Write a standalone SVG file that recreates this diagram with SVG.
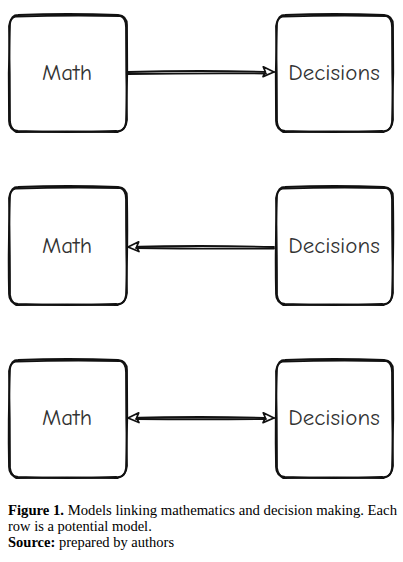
<svg xmlns="http://www.w3.org/2000/svg" width="403" height="562" viewBox="0 0 403 562">
<defs>
<style>
.s{fill:none;stroke:#111;stroke-width:1.8;stroke-linecap:round;stroke-linejoin:round}
.t{font-family:"Comic Neue","DejaVu Sans","Liberation Sans",sans-serif;font-size:23px;fill:#333;text-anchor:middle}
.c{font-family:"Liberation Serif","DejaVu Serif","Times New Roman",serif;font-size:14.5px;fill:#000}
</style>
<marker id="ah" viewBox="0 0 12 12" refX="11" refY="6" markerWidth="13" markerHeight="13" markerUnits="userSpaceOnUse" orient="auto-start-reverse">
<path d="M1,1.5 L11,6 L1,10.5 L3,6 Z" fill="#fff" stroke="#111" stroke-width="1.6" stroke-linejoin="round"/>
</marker>
</defs>
<rect width="403" height="562" fill="#fff"/>
<g id="math1">
<path class="s" d="M18,15 Q68,13 118,15 Q127,16 127,25 Q128,73 126,122 Q125,132 116,131 Q67,133 18,131 Q9,130 9,121 Q8,73 10,24 Q11,15 18,15 Z"/>
<path class="s" d="M16,16.5 Q68,15 120,16 Q126,18 126,27 Q126,73 127,120 Q126,130 118,132 Q67,131 16,132 Q11,129 10,122 Q10,73 9,26 Q10,18 16,16.5"/>
<text class="t" x="67" y="80">Math</text>
</g>
<g id="dec1">
<path class="s" d="M285,15 Q334,13 384,15 Q393,16 393,25 Q394,73 392,122 Q391,132 382,131 Q334,133 285,131 Q276,130 276,121 Q275,73 277,24 Q278,15 285,15 Z"/>
<path class="s" d="M283,16.5 Q334,15 386,16 Q392,18 392,27 Q392,73 393,120 Q392,130 384,132 Q334,131 283,132 Q278,129 277,122 Q277,73 276,26 Q277,18 283,16.5"/>
<text class="t" x="334" y="80">Decisions</text>
</g>
<g id="math2">
<path class="s" d="M18,187 Q68,185 118,187 Q127,188 127,197 Q128,246 126,295 Q125,305 116,304 Q67,306 18,304 Q9,303 9,294 Q8,246 10,196 Q11,187 18,187 Z"/>
<path class="s" d="M16,188.5 Q68,187 120,188 Q126,190 126,199 Q126,246 127,293 Q126,303 118,305 Q67,304 16,305 Q11,302 10,295 Q10,246 9,198 Q10,190 16,188.5"/>
<text class="t" x="67" y="253">Math</text>
</g>
<g id="dec2">
<path class="s" d="M285,187 Q334,185 384,187 Q393,188 393,197 Q394,246 392,295 Q391,305 382,304 Q334,306 285,304 Q276,303 276,294 Q275,246 277,196 Q278,187 285,187 Z"/>
<path class="s" d="M283,188.5 Q334,187 386,188 Q392,190 392,199 Q392,246 393,293 Q392,303 384,305 Q334,304 283,305 Q278,302 277,295 Q277,246 276,198 Q277,190 283,188.5"/>
<text class="t" x="334" y="253">Decisions</text>
</g>
<g id="math3">
<path class="s" d="M18,360 Q68,358 118,360 Q127,361 127,370 Q128,419 126,468 Q125,478 116,477 Q67,479 18,477 Q9,476 9,467 Q8,419 10,369 Q11,360 18,360 Z"/>
<path class="s" d="M16,361.5 Q68,360 120,361 Q126,363 126,372 Q126,419 127,466 Q126,476 118,478 Q67,477 16,478 Q11,475 10,468 Q10,419 9,371 Q10,363 16,361.5"/>
<text class="t" x="67" y="425">Math</text>
</g>
<g id="dec3">
<path class="s" d="M285,360 Q334,358 384,360 Q393,361 393,370 Q394,419 392,468 Q391,478 382,477 Q334,479 285,477 Q276,476 276,467 Q275,419 277,369 Q278,360 285,360 Z"/>
<path class="s" d="M283,361.5 Q334,360 386,361 Q392,363 392,372 Q392,419 393,466 Q392,476 384,478 Q334,477 283,478 Q278,475 277,468 Q277,419 276,371 Q277,363 283,361.5"/>
<text class="t" x="334" y="425">Decisions</text>
</g>
<g id="connectors">
<path class="s" d="M128,72 Q200,70 274,72" marker-end="url(#ah)"/>
<path class="s" d="M128,74 Q200,73 266,73.5"/>
<path class="s" d="M274,247 Q200,245 128,247" marker-end="url(#ah)"/>
<path class="s" d="M274,248.5 Q200,249 136,248"/>
<path class="s" d="M128,418 Q200,416 274,418" marker-start="url(#ah)" marker-end="url(#ah)"/>
<path class="s" d="M136,419 Q200,419.5 266,419"/>
</g>
<g id="caption">
<text class="c" x="8" y="515" textLength="389" lengthAdjust="spacingAndGlyphs"><tspan font-weight="bold">Figure 1.</tspan> Models linking mathematics and decision making. Each</text>
<text class="c" x="8" y="531">row is a potential model.</text>
<text class="c" x="8" y="547"><tspan font-weight="bold">Source:</tspan> prepared by authors</text>
</g>
</svg>
